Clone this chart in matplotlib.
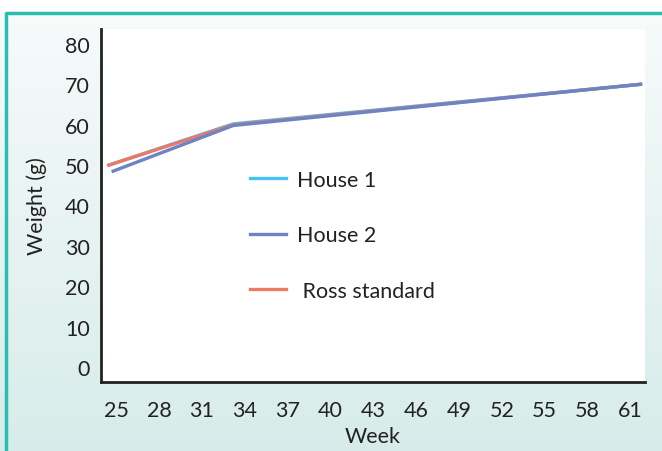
import numpy as np
import matplotlib
matplotlib.use("Agg")
import matplotlib.pyplot as plt
from matplotlib.colors import LinearSegmentedColormap

plt.rcParams['font.family'] = ['Lato', 'DejaVu Sans']

# data
house1_weeks = [24.5, 33.2, 61.7]
house1_weight = [50.0, 60.2, 70.0]
house2_weeks = [24.8, 33.2, 61.7]
house2_weight = [48.5, 59.8, 70.0]
ross_weeks = [24.5, 33.2, 61.7]
ross_weight = [50.0, 60.0, 70.0]

xticks = [25, 28, 31, 34, 37, 40, 43, 46, 49, 52, 55, 58, 61]
yticks = [0, 10, 20, 30, 40, 50, 60, 70, 80]

fig = plt.figure(figsize=(6.62, 4.52), dpi=100)

# gradient background
bg = fig.add_axes([0, 0, 1, 1], zorder=-10)
grad = np.linspace(0, 1, 256).reshape(-1, 1)
cmap = LinearSegmentedColormap.from_list("bg", ["#f8fbfb", "#d7ecea"])
bg.imshow(grad, aspect="auto", cmap=cmap, extent=[0, 1, 0, 1], origin="upper")
bg.set_xlim(0, 1)
bg.set_ylim(0, 1)
bg.axhspan(1 - 12 / 452, 1, color="white")
bg.plot([6 / 662, 6 / 662, 1], [0, 1 - 13.5 / 452, 1 - 13.5 / 452],
        color="#2bbdb0", lw=2.5, solid_capstyle="butt")
bg.axis("off")

ax = fig.add_axes([0.1526, 0.1527, 0.8214, 0.781])
ax.set_facecolor("white")
ax.plot(house1_weeks, house1_weight, color="#45c3ee", lw=2.4, label="House 1", zorder=2)
ax.plot(house2_weeks, house2_weight, color="#6c84c3", lw=2.4, label="House 2", zorder=4)
ax.plot(ross_weeks, ross_weight, color="#ee7866", lw=2.4, label=" Ross standard", zorder=3)

ax.set_xlim(23.95, 62)
ax.set_ylim(-3.7, 83.7)
ax.set_xticks(xticks)
ax.set_yticks(yticks)
ax.tick_params(length=0, labelsize=15.5, colors="#222222")
ax.tick_params(axis="x", pad=13)
ax.tick_params(axis="y", pad=8)
for s in ["top", "right"]:
    ax.spines[s].set_visible(False)
for s in ["left", "bottom"]:
    ax.spines[s].set_linewidth(2)
    ax.spines[s].set_color("#222222")

ax.set_xlabel("Week", fontsize=15.5, color="#222222", labelpad=4)
ax.set_ylabel("Weight (g)", fontsize=15.5, color="#222222", labelpad=13)

ax.legend(loc="center left", bbox_to_anchor=(0.274, 0.416), frameon=False,
          fontsize=15.5, labelspacing=1.65, handlelength=1.65, handletextpad=0.55,
          borderpad=0, borderaxespad=0, labelcolor="#222222")

fig.savefig("out.png", dpi=100)
